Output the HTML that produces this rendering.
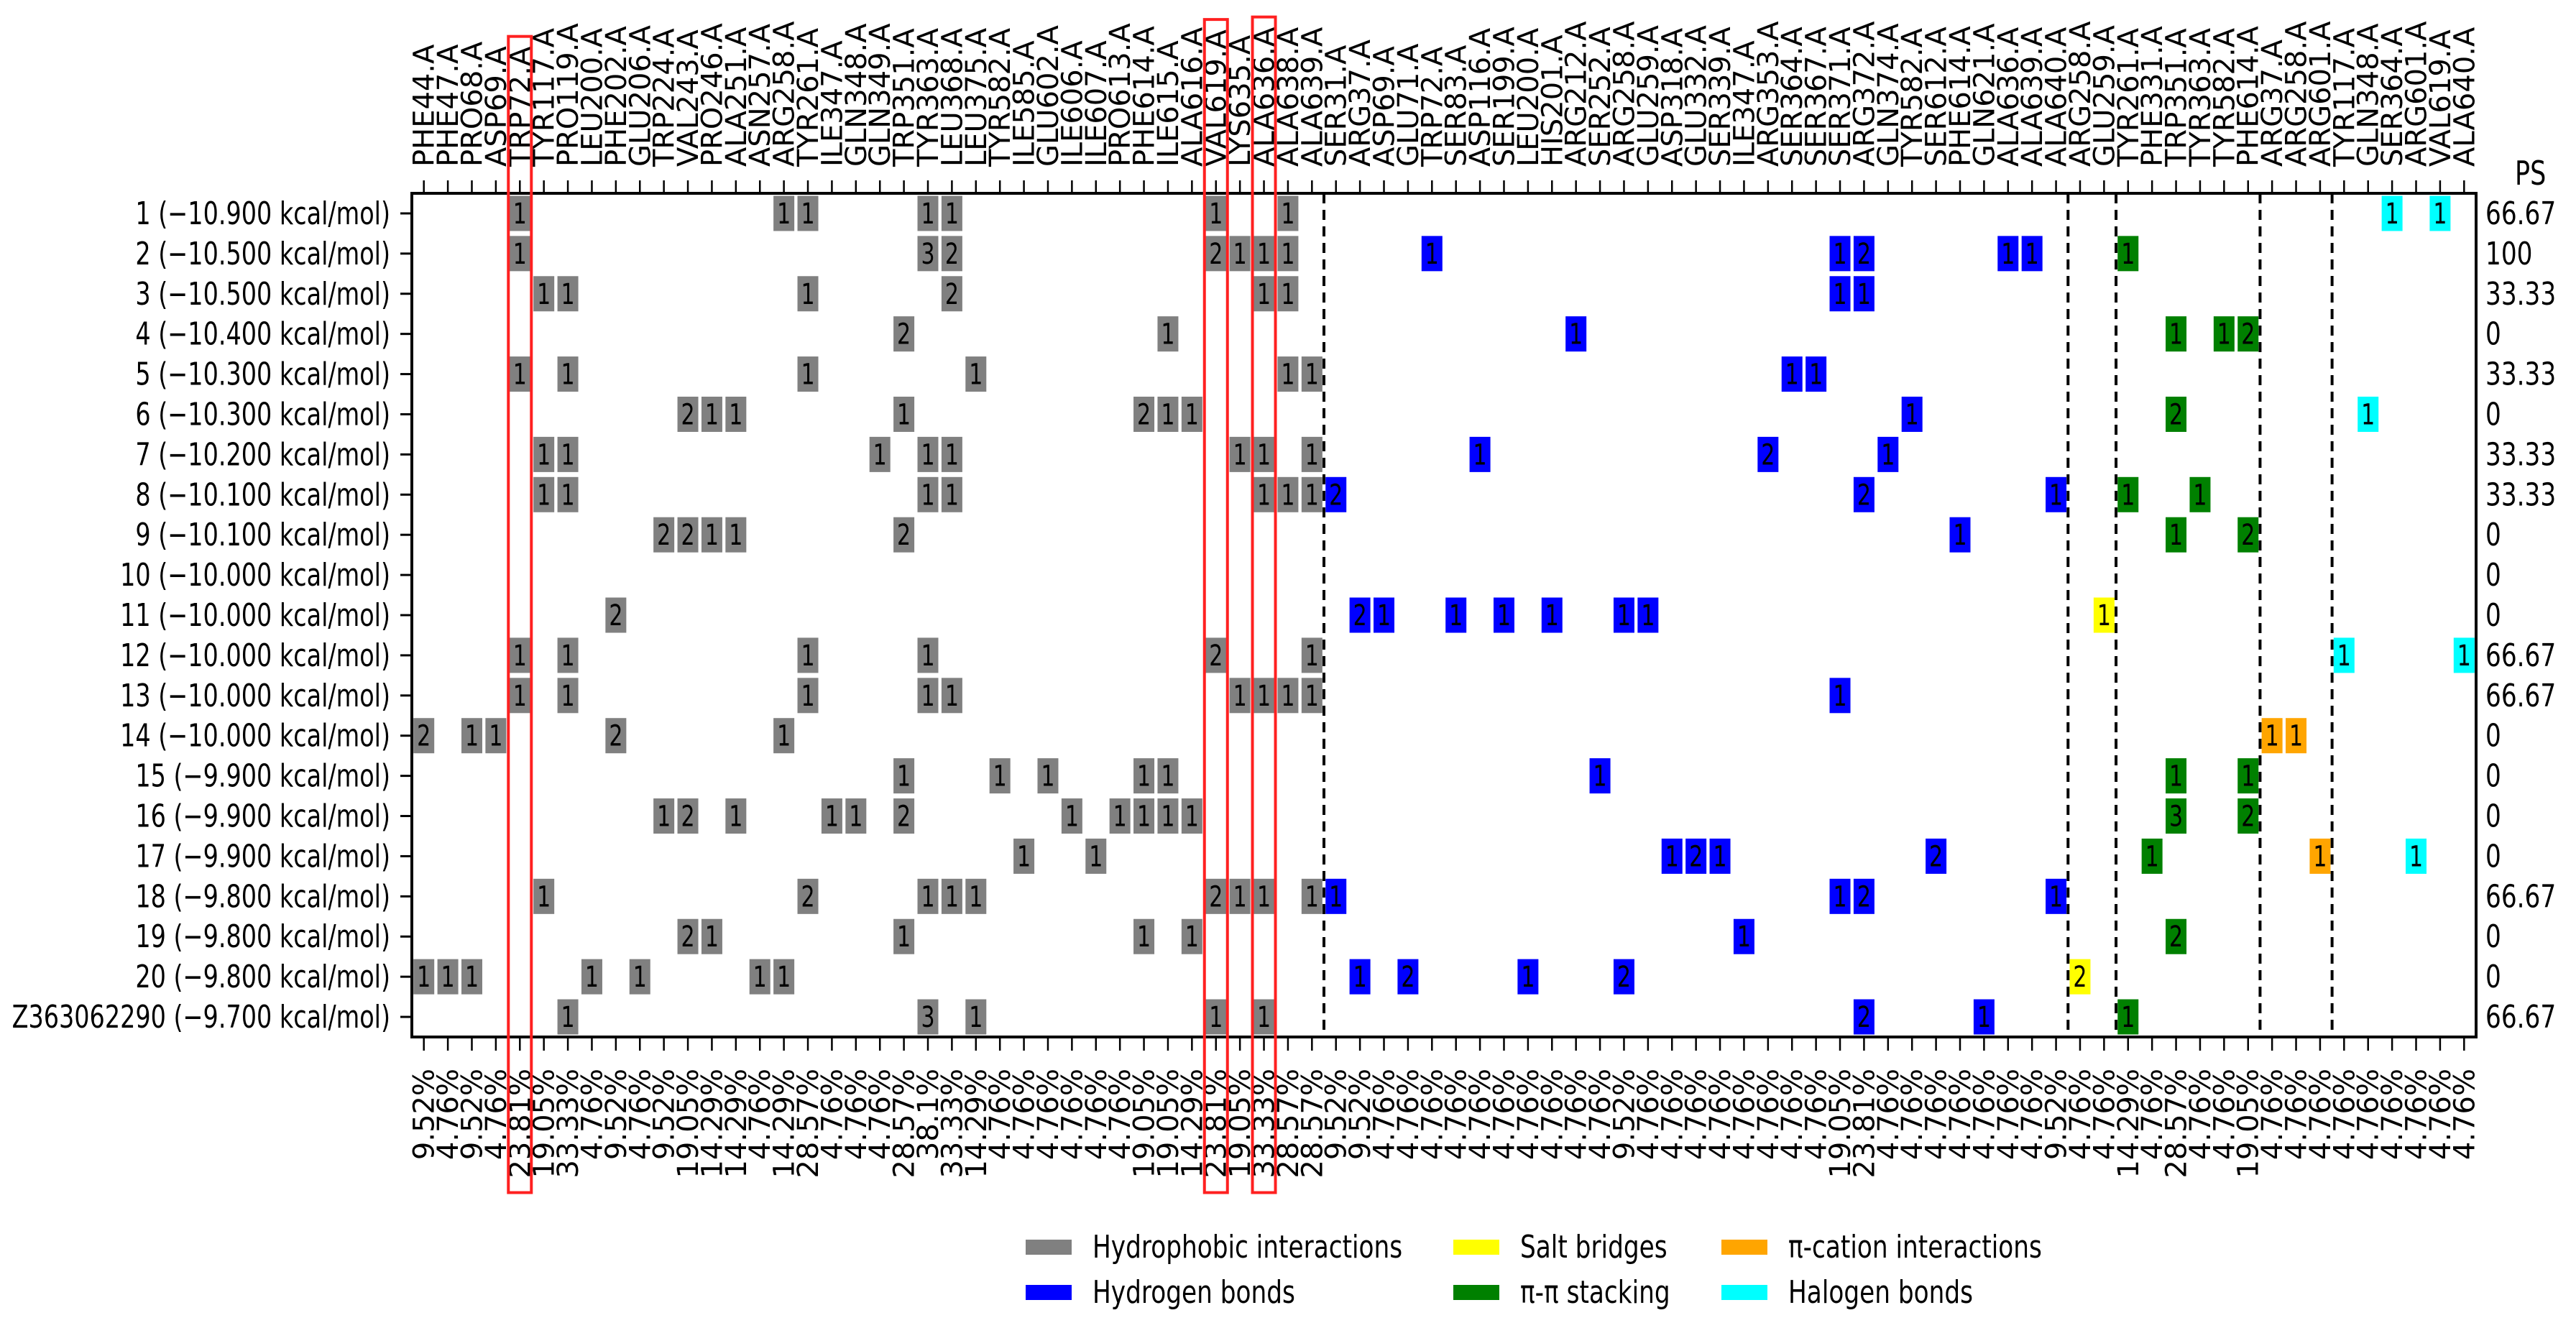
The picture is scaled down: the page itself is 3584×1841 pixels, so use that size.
<!DOCTYPE html>
<html><head><meta charset="utf-8">
<style>
html,body{margin:0;padding:0;background:#fff;}
svg{display:block;font-family:"DejaVu Sans","Liberation Sans",sans-serif;}
</style></head>
<body>
<svg id="chart" width="3584" height="1841" viewBox="0 0 3584 1841" xmlns="http://www.w3.org/2000/svg">
<rect x="0" y="0" width="3584" height="1841" fill="#fff"/>
<g id="layer"></g>
</svg>
<script>
const residues = ["PHE44","PHE47","PRO68","ASP69","TRP72","TYR117","PRO119","LEU200","PHE202","GLU206","TRP224","VAL243","PRO246","ALA251","ASN257","ARG258","TYR261","ILE347","GLN348","GLN349","TRP351","TYR363","LEU368","LEU375","TYR582","ILE585","GLU602","ILE606","ILE607","PRO613","PHE614","ILE615","ALA616","VAL619","LYS635","ALA636","ALA638","ALA639",
"SER31","ARG37","ASP69","GLU71","TRP72","SER83","ASP116","SER199","LEU200","HIS201","ARG212","SER252","ARG258","GLU259","ASP318","GLU332","SER339","ILE347","ARG353","SER364","SER367","SER371","ARG372","GLN374","TYR582","SER612","PHE614","GLN621","ALA636","ALA639","ALA640",
"ARG258","GLU259",
"TYR261","PHE331","TRP351","TYR363","TYR582","PHE614",
"ARG37","ARG258","ARG601",
"TYR117","GLN348","SER364","ARG601","VAL619","ALA640"];
const sectionSizes = [38,31,2,6,3,6];
const sectionNames = ["Hydrophobic interactions","Hydrogen bonds","Salt bridges","π-π stacking","π-cation interactions","Halogen bonds"];
const sectionColors = ["#808080","#0000ff","#ffff00","#008000","#ffa500","#00ffff"];
const rowNames = ["1","2","3","4","5","6","7","8","9","10","11","12","13","14","15","16","17","18","19","20","Z363062290"];
const energies = [-10.9,-10.5,-10.5,-10.4,-10.3,-10.3,-10.2,-10.1,-10.1,-10.0,-10.0,-10.0,-10.0,-10.0,-9.9,-9.9,-9.9,-9.8,-9.8,-9.8,-9.7];
const psValues = ["66.67","100","33.33","0","33.33","0","33.33","33.33","0","0","0","66.67","66.67","0","0","0","0","66.67","0","0","66.67"];
const highlighted = [4,33,35];
// cells: [row, column, count]
const cells = [
[0,4,1],[0,15,1],[0,16,1],[0,21,1],[0,22,1],[0,33,1],[0,36,1],[0,82,1],[0,84,1],
[1,4,1],[1,21,3],[1,22,2],[1,33,2],[1,34,1],[1,35,1],[1,36,1],[1,42,1],[1,59,1],[1,60,2],[1,66,1],[1,67,1],[1,71,1],
[2,5,1],[2,6,1],[2,16,1],[2,22,2],[2,35,1],[2,36,1],[2,59,1],[2,60,1],
[3,20,2],[3,31,1],[3,48,1],[3,73,1],[3,75,1],[3,76,2],
[4,4,1],[4,6,1],[4,16,1],[4,23,1],[4,36,1],[4,37,1],[4,57,1],[4,58,1],
[5,11,2],[5,12,1],[5,13,1],[5,20,1],[5,30,2],[5,31,1],[5,32,1],[5,62,1],[5,73,2],[5,81,1],
[6,5,1],[6,6,1],[6,19,1],[6,21,1],[6,22,1],[6,34,1],[6,35,1],[6,37,1],[6,44,1],[6,56,2],[6,61,1],
[7,5,1],[7,6,1],[7,21,1],[7,22,1],[7,35,1],[7,36,1],[7,37,1],[7,38,2],[7,60,2],[7,68,1],[7,71,1],[7,74,1],
[8,10,2],[8,11,2],[8,12,1],[8,13,1],[8,20,2],[8,64,1],[8,73,1],[8,76,2],
[10,8,2],[10,39,2],[10,40,1],[10,43,1],[10,45,1],[10,47,1],[10,50,1],[10,51,1],[10,70,1],
[11,4,1],[11,6,1],[11,16,1],[11,21,1],[11,33,2],[11,37,1],[11,80,1],[11,85,1],
[12,4,1],[12,6,1],[12,16,1],[12,21,1],[12,22,1],[12,34,1],[12,35,1],[12,36,1],[12,37,1],[12,59,1],
[13,0,2],[13,2,1],[13,3,1],[13,8,2],[13,15,1],[13,77,1],[13,78,1],
[14,20,1],[14,24,1],[14,26,1],[14,30,1],[14,31,1],[14,49,1],[14,73,1],[14,76,1],
[15,10,1],[15,11,2],[15,13,1],[15,17,1],[15,18,1],[15,20,2],[15,27,1],[15,29,1],[15,30,1],[15,31,1],[15,32,1],[15,73,3],[15,76,2],
[16,25,1],[16,28,1],[16,52,1],[16,53,2],[16,54,1],[16,63,2],[16,72,1],[16,79,1],[16,83,1],
[17,5,1],[17,16,2],[17,21,1],[17,22,1],[17,23,1],[17,33,2],[17,34,1],[17,35,1],[17,37,1],[17,38,1],[17,59,1],[17,60,2],[17,68,1],
[18,11,2],[18,12,1],[18,20,1],[18,30,1],[18,32,1],[18,55,1],[18,73,2],
[19,0,1],[19,1,1],[19,2,1],[19,7,1],[19,9,1],[19,14,1],[19,15,1],[19,39,1],[19,41,2],[19,46,1],[19,50,2],[19,69,2],
[20,6,1],[20,21,3],[20,23,1],[20,33,1],[20,35,1],[20,60,2],[20,65,1],[20,71,1]
];

const NS="http://www.w3.org/2000/svg";
const layer=document.getElementById('layer');
const L=573,R=3445,T=269,B=1443;
const nCols=residues.length,nRows=rowNames.length;
const cw=(R-L)/nCols, rh=(B-T)/nRows;
const xC=i=>L+(i+0.5)*cw;
const yC=r=>T+(r+0.5)*rh;
function mk(tag,attrs,parent){const e=document.createElementNS(NS,tag);for(const k in attrs)e.setAttribute(k,attrs[k]);(parent||layer).appendChild(e);return e;}

const colSection=[];
sectionSizes.forEach((n,s)=>{for(let i=0;i<n;i++)colSection.push(s);});

cells.forEach(([r,c,v])=>{
  const g=mk('g',{});
  
  
  mk('rect',{x:xC(c)-14.5,y:yC(r)-24.5,width:29,height:49,fill:sectionColors[colSection[c]]},g);
  const t=mk('text',{x:0,y:0,'font-size':40,'text-anchor':'middle',fill:'#000',transform:`translate(${xC(c)},${yC(r)+14}) scale(0.75,1)`},g);
  t.textContent=v;
});

let acc=0;
sectionSizes.slice(0,-1).forEach((n,s)=>{acc+=n;
  const ln=mk('line',{x1:L+acc*cw,x2:L+acc*cw,y1:T,y2:B,stroke:'#000','stroke-width':4,'stroke-dasharray':'14,9'});
  
  
});

const fr=mk('rect',{x:L,y:T,width:R-L,height:B-T,fill:'none',stroke:'#000','stroke-width':4});



const pct=[];
for(let c=0;c<nCols;c++){
  const cnt=new Set(cells.filter(d=>d[1]===c).map(d=>d[0])).size;
  pct.push(parseFloat((cnt/nRows*100).toFixed(2))+'%');
}
const labelLens=[],pctLens=[];
for(let c=0;c<nCols;c++){
  mk('line',{x1:xC(c),x2:xC(c),y1:T-18,y2:T,stroke:'#000','stroke-width':2.5});
  mk('line',{x1:xC(c),x2:xC(c),y1:B,y2:B+19,stroke:'#000','stroke-width':2.5});
  const t=mk('text',{x:0,y:0,'font-size':40,transform:`translate(${xC(c)+14},232) rotate(-90)`});
  
  
  t.textContent=residues[c]+'.A';
  labelLens.push(t.getComputedTextLength());
  const p=mk('text',{x:0,y:0,'font-size':40,'text-anchor':'end',transform:`translate(${xC(c)+14},1487) rotate(-90)`});
  
  
  p.textContent=pct[c];
  pctLens.push(p.getComputedTextLength());
}

for(let r=0;r<nRows;r++){
  mk('line',{x1:L-16,x2:L,y1:yC(r),y2:yC(r),stroke:'#000','stroke-width':3});
  const t=mk('text',{x:0,y:0,'font-size':44,'text-anchor':'end',transform:`translate(543,${yC(r)+15}) scale(0.76,1)`});
  
  
  t.textContent=rowNames[r]+' (\u2212'+Math.abs(energies[r]).toFixed(3)+' kcal/mol)';
  const p=mk('text',{x:0,y:0,'font-size':44,transform:`translate(3458,${yC(r)+15}) scale(0.78,1)`});
  
  
  p.textContent=psValues[r];
}
const ps=mk('text',{x:0,y:0,'font-size':46,transform:'translate(3499,257) scale(0.76,1)'});


ps.textContent='PS';

highlighted.forEach(c=>{
  const top=232-labelLens[c]-14, bot=1487+pctLens[c]+20;
  const hr=mk('rect',{x:xC(c)-16,y:top,width:32,height:bot-top,fill:'none',stroke:'#ff2020','stroke-width':4});
  
  
});

const legX=[1427,2022,2395], legY=[1725,1788];
sectionNames.forEach((nm,i)=>{
  const col=Math.floor(i/2), row=i%2;
  const g=mk('g',{});
  
  
  mk('rect',{x:legX[col],y:legY[row],width:64,height:21,fill:sectionColors[i]},g);
  const t=mk('text',{x:0,y:0,'font-size':44,transform:`translate(${legX[col]+93},${legY[row]+25}) scale(0.78,1)`},g);
  t.textContent=nm;
});
</script>
</body></html>
